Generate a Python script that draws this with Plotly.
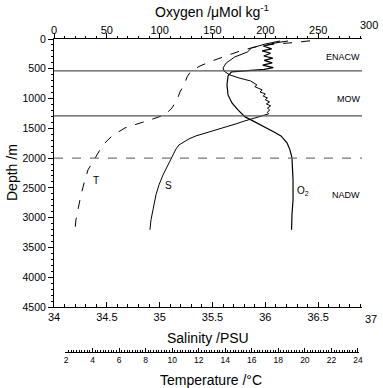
import plotly.graph_objects as go

# ---------------- data ----------------
depth_T = [30, 59, 84, 134, 201, 285, 369, 453, 537, 637, 738, 889, 1023, 1157,
           1274, 1358, 1442, 1492, 1627, 1744, 1861, 1996, 2197, 2365, 2616, 2868,
           3035, 3203]
temperature = [20.39, 19.26, 17.75, 16.24, 15.11, 13.98, 13.0, 12.10, 11.42, 11.12,
               10.97, 10.59, 10.36, 9.99, 9.46, 8.33, 7.20, 6.45, 5.47, 4.94, 4.56,
               4.19, 3.66, 3.43, 3.13, 2.90, 2.75, 2.68]

depth_S = [34, 84, 151, 218, 302, 402, 486, 540, 600, 654, 704, 740, 771, 800, 855,
           890, 922, 960, 989, 1020, 1057, 1090, 1124, 1160, 1191, 1230, 1258, 1291,
           1325, 1375, 1425, 1476, 1526, 1576, 1627, 1677, 1727, 1778, 1845, 1979,
           2130, 2281, 2448, 2616, 2868, 3035, 3203]
salinity = [36.14, 36.00, 35.87, 35.83, 35.71, 35.63, 35.60, 35.61, 35.66, 35.75,
            35.86, 35.89, 35.92, 35.90, 35.97, 35.95, 36.00, 35.98, 36.02, 36.00,
            36.04, 36.01, 36.05, 36.02, 36.04, 36.02, 36.03, 35.968, 35.893,
            35.807, 35.722, 35.628, 35.524, 35.429, 35.344, 35.278, 35.230, 35.183,
            35.155, 35.117, 35.069, 35.032, 34.994, 34.965, 34.937, 34.918, 34.908]

depth_O2 = [34, 67, 117, 165, 200, 240, 285, 320, 360, 400, 440, 480, 510, 537,
            553, 620, 771, 939, 1073, 1191, 1308, 1358, 1425, 1492, 1560, 1627,
            1694, 1744, 1861, 1996, 2365, 2700, 2950, 3203]
oxygen = [221.4, 209.0, 198.0, 206.0, 197.0, 205.0, 198.5, 207.0, 199.0, 206.5,
          197.5, 207.5, 199.0, 181.0, 168.0, 164.7, 163.7, 164.7,
          168.4, 174.1, 180.8, 186.4, 194.0, 201.6, 208.2, 214.8, 218.6, 220.5,
          223.3, 225.2, 226.2, 226.2, 225.2, 224.8]

boundaries_solid = [535, 1290]
boundary_dashed = [2000]

water_masses = ["ENACW", "MOW", "NADW"]
water_mass_depth = [302, 1006, 2616]

sal_ticks = [34, 34.5, 35, 35.5, 36, 36.5]
o2_ticks = [0, 50, 100, 150, 200, 250]
temp_ticks = list(range(2, 25, 2))
depth_ticks = list(range(0, 4501, 500))

# ---------------- figure ----------------
FONT = "Liberation Sans, Arial, Helvetica, sans-serif"
W, H = 383, 388
OFF = 0  # body margin removed via post_script
SX0, SX1, SY0 = 54, 362, 39
ML, MT = SX0 - OFF, SY0 - OFF
MR = W - ML - (SX1 - SX0)
MB = 2
PW, PH = W - ML - MR, H - MT - MB


def px(xs):
    """screen x pixel -> paper fraction"""
    return (xs - OFF - ML) / PW


def py(ys):
    """screen y pixel -> paper fraction"""
    return (H - MB - (ys - OFF)) / PH


fig = go.Figure()

fig.add_trace(go.Scatter(x=temperature, y=depth_T, xaxis="x3", yaxis="y",
                         mode="lines", line=dict(color="black", width=1, dash="dash"),
                         showlegend=False, hoverinfo="skip"))
fig.add_trace(go.Scatter(x=salinity, y=depth_S, xaxis="x", yaxis="y",
                         mode="lines", line=dict(color="black", width=1),
                         showlegend=False, hoverinfo="skip"))
fig.add_trace(go.Scatter(x=oxygen, y=depth_O2, xaxis="x2", yaxis="y",
                         mode="lines", line=dict(color="black", width=1.2),
                         showlegend=False, hoverinfo="skip"))

shapes = []
for d in boundaries_solid:
    shapes.append(dict(type="line", xref="x domain", x0=0, x1=1, yref="y", y0=d, y1=d,
                       line=dict(color="#555555", width=1.3)))
for d in boundary_dashed:
    shapes.append(dict(type="line", xref="x domain", x0=0, x1=1, yref="y", y0=d, y1=d,
                       line=dict(color="#777777", width=1.3, dash="dash")))

ydom0 = py(307)
axis_common = dict(showgrid=False, zeroline=False, showline=True, linecolor="black",
                   linewidth=1, tickcolor="black", automargin=False,
                   tickfont=dict(family=FONT, size=11, color="black"))

fig.update_layout(
    width=W, height=H,
    margin=dict(l=ML, r=MR, t=MT, b=MB),
    paper_bgcolor="white", plot_bgcolor="rgba(0,0,0,0)",
    font=dict(family=FONT, color="black"),
    shapes=shapes,
    xaxis=dict(**axis_common, range=[34, 34 + 308 / 105.67], domain=[0, 1], anchor="y",
               side="bottom", tickvals=sal_ticks, ticktext=[str(v) for v in sal_ticks],
               ticks="inside", ticklen=5,
               minor=dict(dtick=0.1, ticks="inside", ticklen=3, tickcolor="black")),
    xaxis2=dict(**axis_common, range=[0, 308 / 1.0567], overlaying="x", anchor="y",
                side="top", tickvals=o2_ticks, ticks="outside", ticklen=5,
                ticklabelstandoff=-5,
                minor=dict(dtick=10, ticks="outside", ticklen=2.5, tickcolor="black")),
    xaxis3=dict(showgrid=False, zeroline=False, showline=True, linecolor="black",
                linewidth=1, tickcolor="black", automargin=False,
                tickfont=dict(family=FONT, size=8.5, color="black"),
                range=[1.925, 24.08], domain=[px(65), px(359)], anchor="free",
                position=py(352), side="bottom", tickvals=temp_ticks,
                ticks="inside", ticklen=4,
                minor=dict(dtick=0.2, ticks="inside", ticklen=2, tickcolor="black")),
    yaxis=dict(**axis_common, range=[4500, 0], domain=[ydom0, 1], anchor="x",
               tickvals=depth_ticks, ticks="outside", ticklen=5,
               minor=dict(dtick=100, ticks="outside", ticklen=2.5, tickcolor="black")),
)
fig.update_yaxes(tickfont=dict(size=10.5))

ann = []
title_font = dict(family=FONT, size=14, color="black")


def paper_text(text, xs, ys, font, **kw):
    return dict(text=text, xref="paper", yref="paper", x=px(xs), y=py(ys),
                xanchor="center", yanchor="middle", showarrow=False, font=font, **kw)


ann.append(paper_text("Oxygen /μMol kg<sup>-1</sup>", 212, 11, title_font))
ann.append(paper_text("Salinity /PSU", 208, 338, title_font))
ann.append(paper_text("Temperature /°C", 211, 380, title_font))
ann.append(paper_text("Depth /m", 12, 173, title_font, textangle=-90))
# end labels beyond the drawn axis length
tick_font = dict(family=FONT, size=11, color="black")
ann.append(paper_text("37", 371, 319, tick_font))
ann.append(paper_text("300", 369, 25, tick_font))
# curve labels
lab_font = dict(family=FONT, size=10, color="black")
ann.append(dict(text="T", xref="x", x=34.397, yref="y", y=2381, showarrow=False,
                xanchor="center", yanchor="middle", font=lab_font))
ann.append(dict(text="S", xref="x", x=35.079, yref="y", y=2465, showarrow=False,
                xanchor="center", yanchor="middle", font=lab_font))
ann.append(dict(text="O<sub>2</sub>", xref="x", x=36.36, yref="y", y=2549, showarrow=False,
                xanchor="center", yanchor="middle", font=lab_font))
for name, d in zip(water_masses, water_mass_depth):
    ann.append(dict(text=name, xref="paper", x=1.0, xanchor="right", yref="y", y=d,
                    yanchor="middle", showarrow=False,
                    font=dict(family=FONT, size=9, color="black")))
fig.update_layout(annotations=ann)

fig.write_html("out.html", config={"displayModeBar": False},
               post_script="document.body.style.margin='0px';document.body.style.overflow='hidden';")
